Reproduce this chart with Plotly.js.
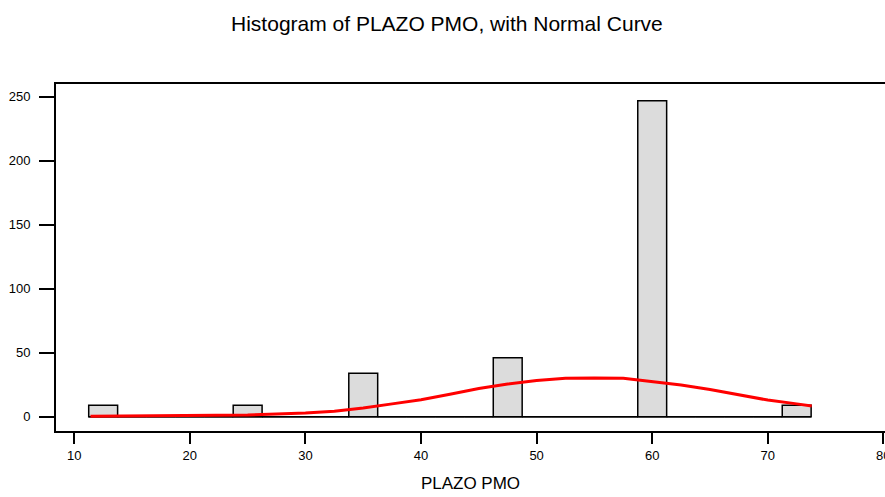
<!DOCTYPE html>
<html>
<head>
<meta charset="utf-8">
<script src="https://cdn.plot.ly/plotly-3.0.1.min.js"></script>
<style>html,body{margin:0;padding:0;background:#fff;}#chart{width:885px;height:497px;}</style>
</head>
<body>
<div id="chart"></div>
<script>
// Histogram bins (centers) and counts
var binCenters = [12.5, 15, 17.5, 20, 22.5, 25, 27.5, 30, 32.5, 35, 37.5, 40, 42.5, 45, 47.5, 50, 52.5, 55, 57.5, 60, 62.5, 65, 67.5, 70, 72.5];
var binCounts  = [9, 0, 0, 0, 0, 9, 0, 0, 0, 34, 0, 0, 0, 0, 46, 0, 0, 0, 0, 247, 0, 0, 0, 0, 9];
var binWidth = 2.5;

// Fitted normal curve
var curveX = [11.4, 15, 20, 22.5, 25, 27.5, 30, 32.5, 35, 37.5, 40, 42.5, 45, 47.5, 50, 52.5, 55, 57.5, 60, 62.5, 65, 67.5, 70, 72.5, 73.8];
var curveY = [0.3, 0.5, 0.7, 1.0, 1.3, 2.0, 2.8, 4.3, 6.8, 10.0, 13.2, 17.5, 22.0, 25.5, 28.2, 30.0, 30.3, 30.0, 27.5, 24.7, 21.2, 16.8, 13.0, 10.0, 8.3];

var yTicks = [0, 50, 100, 150, 200, 250];
var xTicks = [10, 20, 30, 40, 50, 60, 70, 80];

var baseX = [binCenters[0] - binWidth / 2, binCenters[binCenters.length - 1] + binWidth / 2];
var baseY = [0, 0];

var traces = [
  {
    type: 'bar', x: binCenters, y: binCounts, width: binWidth,
    marker: {color: '#dcdcdc', line: {color: '#000', width: 1.5}},
    hoverinfo: 'skip', showlegend: false
  },
  {
    type: 'scatter', mode: 'lines', x: baseX, y: baseY,
    line: {color: '#000', width: 1.5}, hoverinfo: 'skip', showlegend: false
  },
  {
    type: 'scatter', mode: 'lines', x: curveX, y: curveY,
    line: {color: '#ff0000', width: 3}, hoverinfo: 'skip', showlegend: false
  }
];

// the last x tick label sits on the page edge (cut off, as in the reference); draw it as an annotation
var lastTick = xTicks[xTicks.length - 1];

var layout = {
  width: 885, height: 497,
  paper_bgcolor: '#fff', plot_bgcolor: '#fff',
  font: {family: 'Liberation Sans, Arial, sans-serif', color: '#000', size: 13},
  margin: {l: 56, r: 0, t: 84, b: 66, pad: 0},
  title: {text: 'Histogram of PLAZO PMO, with Normal Curve', font: {size: 21, color: '#000'},
          x: 0.505, xanchor: 'center', y: 1 - 24 / 497, yanchor: 'middle', xref: 'container', yref: 'container'},
  xaxis: {
    range: [8.42, 80.14], tickvals: xTicks, ticktext: xTicks.map(String),
    showgrid: false, zeroline: false, showline: true, linecolor: '#000', linewidth: 2,
    mirror: true, ticks: 'outside', ticklen: 11, tickwidth: 2, tickcolor: '#000',
    tickfont: {size: 13}, automargin: false,
    title: {text: 'PLAZO PMO', font: {size: 17}, standoff: 16}
  },
  yaxis: {
    range: [-11.2, 260], tickvals: yTicks, ticktext: yTicks.map(String),
    showgrid: false, zeroline: false, showline: true, linecolor: '#000', linewidth: 2,
    ticks: 'outside', ticklen: 15, tickwidth: 2, tickcolor: '#000',
    tickfont: {size: 13}, ticklabelstandoff: 6, automargin: false
  },
  annotations: [
    {x: lastTick, xref: 'x', y: 0, yref: 'paper', yshift: -15, text: String(lastTick),
     showarrow: false, xanchor: 'center', yanchor: 'top', font: {size: 13, color: '#000'}}
  ],
  bargap: 0
};

Plotly.newPlot('chart', traces, layout, {displayModeBar: false, staticPlot: true});
</script>
</body>
</html>
